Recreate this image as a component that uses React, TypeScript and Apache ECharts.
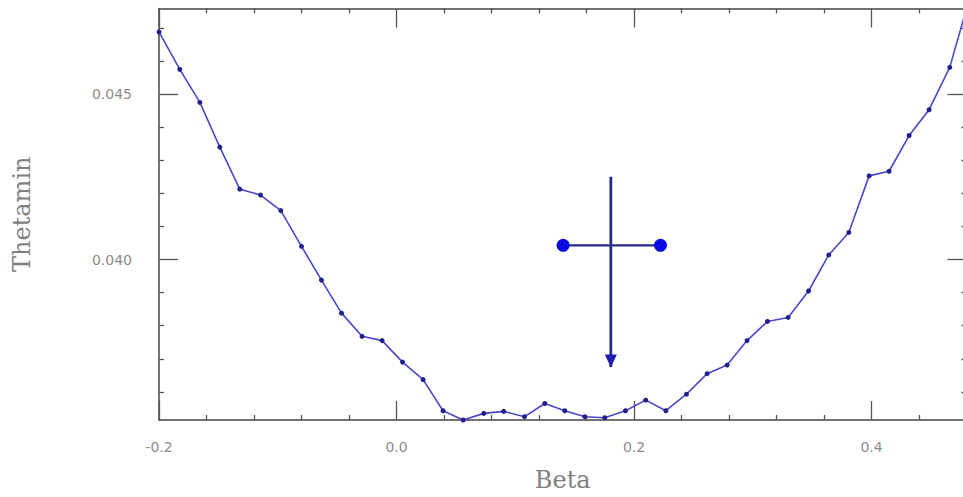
import React, { useEffect, useRef } from "react";
import * as echarts from "echarts";

// Scan of Thetamin against Beta
const betaValues = [
  -0.2, -0.1825, -0.1656, -0.1488, -0.132, -0.1145, -0.0974, -0.08, -0.0632, -0.0463,
  -0.029, -0.0121, 0.0051, 0.0224, 0.0392, 0.0561, 0.0735, 0.0903, 0.1078, 0.1249,
  0.1417, 0.1586, 0.1754, 0.1928, 0.2099, 0.2268, 0.2442, 0.2616, 0.2784, 0.2952,
  0.3124, 0.3298, 0.347, 0.364, 0.3809, 0.398, 0.4148, 0.4317, 0.4485, 0.4659, 0.48,
];
const thetaminValues = [
  0.04688, 0.04575, 0.04475, 0.0434, 0.04213, 0.04195, 0.04148, 0.0404, 0.03938, 0.03838,
  0.03768, 0.03755, 0.0369, 0.03637, 0.03543, 0.03515, 0.03535, 0.03541, 0.03525, 0.03565,
  0.03543, 0.03525, 0.03522, 0.03543, 0.03575, 0.03543, 0.03593, 0.03655, 0.03681, 0.03755,
  0.03813, 0.03825, 0.03905, 0.04014, 0.04082, 0.04253, 0.04267, 0.04375, 0.04453, 0.04581,
  0.04759,
];

// Estimate marker: horizontal error bar and downward arrow
const errorBarBeta = [0.1403, 0.2223];
const errorBarTheta = 0.04043;
const arrowBeta = 0.1805;
const arrowTheta = [0.0425, 0.03675];

// Axis extents and tick values
const betaRange = [-0.2, 0.48];
const thetaRange = [0.03515, 0.04759];
const betaMajorTicks = [-0.2, 0.0, 0.2, 0.4];
const betaMinorTicks = [-0.16, -0.12, -0.08, -0.04, 0.04, 0.08, 0.12, 0.16, 0.24, 0.28, 0.32, 0.36, 0.44];
const thetaMajorTicks = [0.04, 0.045];
const thetaMinorTicks = [0.036, 0.037, 0.038, 0.039, 0.041, 0.042, 0.043, 0.044, 0.046, 0.047];

const frameColor = "#444";
const tickColor = "#555";
const labelColor = "#8c8c8c";
const titleColor = "#808080";

function makeXAxis(position: "top" | "bottom", ticks: number[], length: number, withLine: boolean, withLabels: boolean) {
  return {
    type: "value",
    position,
    min: betaRange[0],
    max: betaRange[1],
    splitLine: { show: false },
    axisLine: { show: withLine, onZero: false, lineStyle: { color: frameColor, width: 1.5 } },
    axisTick: { show: true, inside: true, length, customValues: ticks, lineStyle: { color: tickColor, width: 1.3 } },
    axisLabel: withLabels
      ? {
          show: true,
          customValues: ticks,
          margin: 20,
          color: labelColor,
          fontFamily: "DejaVu Sans",
          fontSize: 14,
          formatter: (v: number) => v.toFixed(1),
        }
      : { show: false },
    name: withLabels ? "Beta" : "",
    nameLocation: "middle",
    nameGap: 48,
    nameTextStyle: { color: titleColor, fontFamily: "DejaVu Serif", fontSize: 24 },
  };
}

function makeYAxis(position: "left" | "right", ticks: number[], length: number, withLine: boolean, withLabels: boolean) {
  return {
    type: "value",
    position,
    min: thetaRange[0],
    max: thetaRange[1],
    splitLine: { show: false },
    axisLine: { show: withLine, onZero: false, lineStyle: { color: frameColor, width: 1.5 } },
    axisTick: { show: true, inside: true, length, customValues: ticks, lineStyle: { color: tickColor, width: 1.3 } },
    axisLabel: withLabels
      ? {
          show: true,
          customValues: ticks,
          margin: 27,
          color: labelColor,
          fontFamily: "DejaVu Sans",
          fontSize: 14,
          formatter: (v: number) => v.toFixed(3),
        }
      : { show: false },
    name: withLabels ? "Thetamin" : "",
    nameLocation: "middle",
    nameGap: 125,
    nameRotate: 90,
    nameTextStyle: { color: titleColor, fontFamily: "DejaVu Serif", fontSize: 24 },
  };
}

export default function App() {
  const ref = useRef<HTMLDivElement>(null);

  useEffect(() => {
    if (!ref.current) return;
    const chart = echarts.init(ref.current, null, { renderer: "svg" });

    const curve = betaValues.map((b, i) => [b, thetaminValues[i]]);

    chart.setOption({
      animation: false,
      backgroundColor: "#fff",
      grid: { left: 159, top: 8.5, width: 807.5, height: 414.8, containLabel: false },
      xAxis: [
        makeXAxis("bottom", betaMajorTicks, 19, true, true),
        makeXAxis("bottom", betaMinorTicks, 5, false, false),
        makeXAxis("top", betaMajorTicks, 19, true, false),
        makeXAxis("top", betaMinorTicks, 5, false, false),
      ],
      yAxis: [
        makeYAxis("left", thetaMajorTicks, 19, true, true),
        makeYAxis("left", thetaMinorTicks, 5, false, false),
        makeYAxis("right", thetaMajorTicks, 19, true, false),
        makeYAxis("right", thetaMinorTicks, 5, false, false),
      ],
      series: [
        {
          type: "line",
          data: curve,
          xAxisIndex: 0,
          yAxisIndex: 0,
          symbol: "circle",
          symbolSize: 5,
          itemStyle: { color: "#20208a" },
          lineStyle: { color: "#4848cc", width: 1.6 },
          z: 3,
        },
        {
          type: "line",
          data: errorBarBeta.map((b) => [b, errorBarTheta]),
          xAxisIndex: 0,
          yAxisIndex: 0,
          symbol: "circle",
          symbolSize: 13,
          itemStyle: { color: "#0a0ae0" },
          lineStyle: { color: "#2a2a8c", width: 2.2 },
          z: 4,
        },
        {
          type: "line",
          data: [
            { value: [arrowBeta, arrowTheta[0]], symbol: "none" },
            {
              value: [arrowBeta, arrowTheta[1]],
              symbol: "triangle",
              symbolRotate: 180,
              symbolSize: [12, 13],
              symbolOffset: [0, -6],
            },
          ],
          xAxisIndex: 0,
          yAxisIndex: 0,
          itemStyle: { color: "#1e1eb0" },
          lineStyle: { color: "#2a2a8c", width: 2.8 },
          z: 4,
        },
      ],
    });

    return () => chart.dispose();
  }, []);

  return (
    <div
      style={{
        position: "fixed",
        left: 0,
        top: 0,
        width: 963,
        height: 497,
        overflow: "hidden",
        background: "#fff",
      }}
    >
      <div ref={ref} style={{ width: 980, height: 497 }} />
    </div>
  );
}
